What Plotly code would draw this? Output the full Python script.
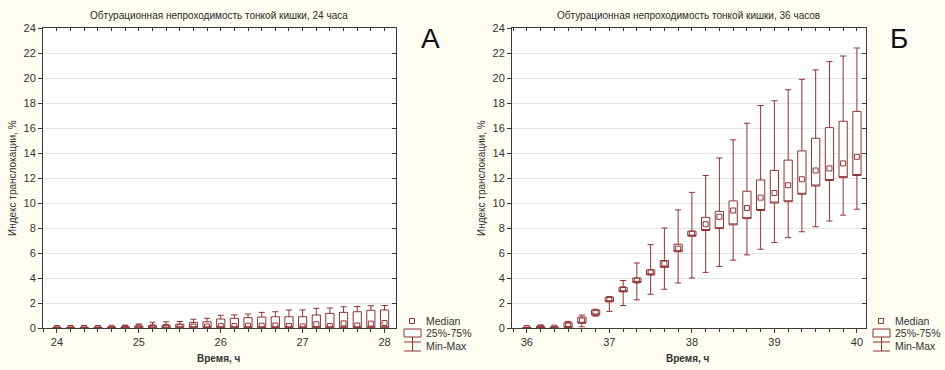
import plotly.graph_objects as go

W, H = 945, 370

# ---------------- data ----------------
time_a = [24.0, 24.167, 24.333, 24.5, 24.667, 24.833, 25.0, 25.167, 25.333, 25.5, 25.667, 25.833,
          26.0, 26.167, 26.333, 26.5, 26.667, 26.833, 27.0, 27.167, 27.333, 27.5, 27.667, 27.833, 28.0]
min_a = [0, 0, 0, 0, 0, 0, 0, 0, 0, 0, 0, 0, 0, 0, 0, 0, 0, 0, 0, 0, 0, 0, 0, 0, 0]
q1_a = [0, 0, 0, 0, 0, 0, 0, 0, 0, 0.02, 0.02, 0.02, 0.02, 0.02, 0.02, 0.02, 0.02, 0.02, 0.02, 0.02,
        0.02, 0.02, 0.02, 0.02, 0.02]
med_a = [0, 0, 0, 0, 0.02, 0.03, 0.05, 0.06, 0.08, 0.1, 0.12, 0.12, 0.15, 0.15, 0.18, 0.18, 0.2, 0.16,
         0.12, 0.3, 0.15, 0.37, 0.2, 0.35, 0.4]
q3_a = [0.05, 0.05, 0.05, 0.05, 0.06, 0.1, 0.16, 0.19, 0.22, 0.3, 0.45, 0.5, 0.72, 0.77, 0.83, 0.88,
        0.9, 0.9, 0.9, 1.04, 1.17, 1.25, 1.3, 1.42, 1.44]
max_a = [0.08, 0.08, 0.08, 0.08, 0.1, 0.2, 0.32, 0.46, 0.5, 0.52, 0.7, 0.78, 1.02, 1.05, 1.12, 1.25,
         1.3, 1.44, 1.45, 1.57, 1.6, 1.7, 1.72, 1.78, 1.8]

time_b = [36.0, 36.167, 36.333, 36.5, 36.667, 36.833, 37.0, 37.167, 37.333, 37.5, 37.667, 37.833,
          38.0, 38.167, 38.333, 38.5, 38.667, 38.833, 39.0, 39.167, 39.333, 39.5, 39.667, 39.833, 40.0]
min_b = [0, 0, 0, 0, 0.1, 0.95, 1.33, 1.8, 2.25, 2.7, 3.1, 3.6, 4.0, 4.45, 4.93, 5.43, 5.85, 6.3,
         6.83, 7.23, 7.7, 8.1, 8.56, 9.03, 9.5]
q1_b = [0, 0, 0, 0.05, 0.38, 1.04, 2.1, 2.9, 3.65, 4.25, 4.85, 6.1, 7.35, 7.8, 7.95, 8.25, 8.75, 9.4,
        10.0, 10.1, 10.7, 11.36, 11.8, 12.03, 12.2]
med_b = [0, 0.05, 0.03, 0.2, 0.6, 1.22, 2.3, 3.1, 3.8, 4.45, 5.15, 6.35, 7.55, 8.3, 8.9, 9.4, 9.6,
         10.43, 10.8, 11.42, 11.9, 12.6, 12.77, 13.17, 13.7]
q3_b = [0.05, 0.14, 0.08, 0.42, 0.88, 1.44, 2.45, 3.25, 4.0, 4.65, 5.4, 6.7, 7.75, 8.85, 9.33, 10.17,
        10.94, 11.84, 12.61, 13.43, 14.17, 15.18, 16.03, 16.54, 17.33]
max_b = [0.06, 0.18, 0.1, 0.53, 1.04, 1.5, 2.5, 3.8, 5.2, 6.67, 8.0, 9.45, 10.85, 12.2, 13.6, 15.05,
         16.38, 17.8, 18.18, 19.06, 19.9, 20.65, 21.31, 21.76, 22.4]

hours_a = [24, 25, 26, 27, 28]
hours_b = [36, 37, 38, 39, 40]
yticks = [0, 2, 4, 6, 8, 10, 12, 14, 16, 18, 20, 22, 24]

title_a = "Обтурационная непроходимость тонкой кишки, 24 часа"
title_b = "Обтурационная непроходимость тонкой кишки, 36 часов"
xlabel = "Время, ч"
ylabel = "Индекс транслокации, %"
legend_labels = ["Median", "25%-75%", "Min-Max"]

# ---------------- style ----------------
BG = "#fffcf1"
BOX = "#8e3434"
AX = "#3a3a3a"
TXT = "#2a2a2a"
GRID = "#e6e6e6"
FONT = "Liberation Sans"


def px(x):
    return x / W


def py(y):
    return 1 - y / H


fig = go.Figure()

panels = [
    (time_a, min_a, q1_a, med_a, q3_a, max_a, "x", "y"),
    (time_b, min_b, q1_b, med_b, q3_b, max_b, "x2", "y2"),
]
for t, mn, q1, md, q3, mx, xa, ya in panels:
    fig.add_trace(go.Box(
        x=t, q1=q1, median=q1, q3=q3, lowerfence=mn, upperfence=mx,
        width=0.1, whiskerwidth=0.75, boxpoints=False,
        fillcolor="white", line=dict(color=BOX, width=1),
        xaxis=xa, yaxis=ya, showlegend=False, hoverinfo="skip"))
    fig.add_trace(go.Scatter(
        x=t, y=md, mode="markers",
        marker=dict(symbol="square-open", size=5, color=BOX, line=dict(width=1, color=BOX)),
        xaxis=xa, yaxis=ya, showlegend=False, hoverinfo="skip"))

# empty traces to activate mirror-tick axes
for xa, ya in [("x3", "y"), ("x", "y3"), ("x4", "y2"), ("x2", "y4")]:
    fig.add_trace(go.Scatter(x=[], y=[], xaxis=xa, yaxis=ya, showlegend=False, hoverinfo="skip"))

ydom = [py(328), py(28)]
xdom_a = [px(43), px(396)]
xdom_b = [px(512), px(866)]
xr_a = [23.83, 28.14]
xr_b = [35.82, 40.11]

tickfont = dict(family=FONT, size=11, color="#333")


def xaxis(dom, rng, vals, anchor):
    return dict(domain=dom, range=rng, anchor=anchor, tickmode="array", tickvals=vals,
                ticktext=[str(v) for v in vals], ticks="outside", ticklen=4, tickcolor=AX,
                showline=True, linecolor=AX, linewidth=1, mirror=True, showgrid=False,
                zeroline=False, tickfont=tickfont, automargin=False,
                minor=dict(tickmode="linear", tick0=vals[0], dtick=1 / 6, ticks="outside",
                           ticklen=3, tickcolor=AX))


def yaxis(anchor):
    return dict(domain=ydom, range=[0, 24], anchor=anchor, tickmode="array", tickvals=yticks,
                ticktext=[str(v) for v in yticks], ticks="outside", ticklen=4, tickcolor=AX,
                showline=True, linecolor=AX, linewidth=1, mirror=True, showgrid=True,
                gridcolor=GRID, gridwidth=1, zeroline=False, tickfont=tickfont, automargin=False)


def topaxis(rng, start, over, anchor):
    return dict(overlaying=over, side="top", anchor=anchor, range=rng, tickmode="linear",
                tick0=start, dtick=1 / 6, ticks="inside", ticklen=3, tickcolor=AX,
                showticklabels=False, showline=False, showgrid=False, zeroline=False)


def rightaxis(over, anchor):
    return dict(overlaying=over, side="right", anchor=anchor, range=[0, 24], tickmode="array",
                tickvals=yticks, ticks="inside", ticklen=4, tickcolor=AX,
                showticklabels=False, showline=False, showgrid=False, zeroline=False)


fig.update_layout(
    width=W, height=H,
    margin=dict(l=0, r=0, t=0, b=0, pad=0, autoexpand=False),
    paper_bgcolor=BG, plot_bgcolor="white",
    font=dict(family=FONT, color=TXT),
    xaxis=xaxis(xdom_a, xr_a, hours_a, "y"),
    yaxis=yaxis("x"),
    xaxis2=xaxis(xdom_b, xr_b, hours_b, "y2"),
    yaxis2=yaxis("x2"),
    xaxis3=topaxis(xr_a, hours_a[0], "x", "y"),
    yaxis3=rightaxis("y", "x"),
    xaxis4=topaxis(xr_b, hours_b[0], "x2", "y2"),
    yaxis4=rightaxis("y2", "x2"),
)


def note(x, y, text, size, color="#333", xanchor="center", angle=0):
    return dict(x=px(x), y=py(y), xref="paper", yref="paper", text=text, showarrow=False,
                xanchor=xanchor, yanchor="middle", textangle=angle,
                font=dict(size=size, color=color, family=FONT))


ann = []
shapes = []
for dx, title, letter in [(0, title_a, "А"), (469, title_b, "Б")]:
    ann.append(note(219 + dx, 15, title, 10, TXT))
    ann.append(note(219 + dx, 358, "<b>" + xlabel + "</b>", 10))
    ann.append(note(12 + dx, 178, ylabel, 10, angle=-90))
    ann.append(note(430 + dx, 38, letter, 28, "#111"))
    # legend
    for lbl, yy in zip(legend_labels, [321, 333, 346]):
        ann.append(note(424 + dx, yy, lbl, 10.5, xanchor="left"))
    line = dict(color=BOX, width=1)
    shapes.append(dict(type="rect", xref="paper", yref="paper", x0=px(409.5 + dx), x1=px(414.5 + dx),
                       y0=py(323.5), y1=py(318.5), line=line, fillcolor="white"))
    shapes.append(dict(type="rect", xref="paper", yref="paper", x0=px(404 + dx), x1=px(421 + dx),
                       y0=py(337), y1=py(329), line=line, fillcolor="white"))
    shapes.append(dict(type="line", xref="paper", yref="paper", x0=px(412.5 + dx), x1=px(412.5 + dx),
                       y0=py(337), y1=py(351), line=line))
    shapes.append(dict(type="line", xref="paper", yref="paper", x0=px(404 + dx), x1=px(421 + dx),
                       y0=py(342), y1=py(342), line=line))
    shapes.append(dict(type="line", xref="paper", yref="paper", x0=px(404 + dx), x1=px(421 + dx),
                       y0=py(351), y1=py(351), line=line))

fig.update_layout(annotations=ann, shapes=shapes)
fig.write_html("out.html", config={"displayModeBar": False},
               post_script="document.body.style.margin='0px';")
